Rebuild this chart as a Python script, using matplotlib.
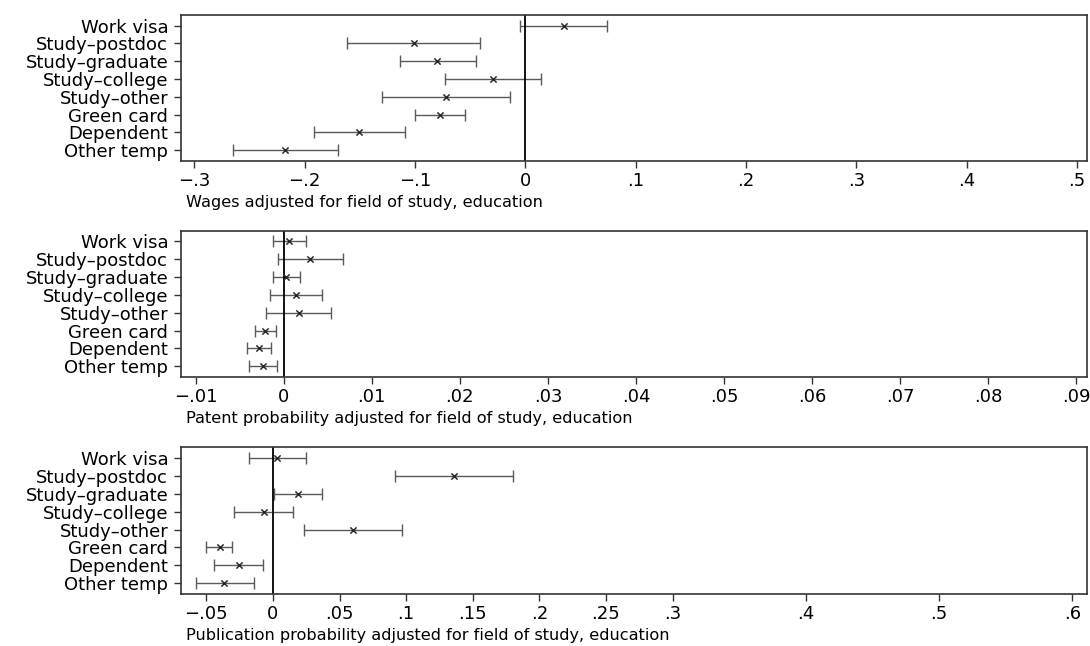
import matplotlib.pyplot as plt
import numpy as np

plt.rcParams['font.family'] = ['DejaVu Sans']

categories = ["Work visa", "Study–postdoc", "Study–graduate", "Study–college",
              "Study–other", "Green card", "Dependent", "Other temp"]

# Wages
wage_pt = [0.035, -0.101, -0.080, -0.029, -0.072, -0.077, -0.151, -0.2175]
wage_lo = [-0.005, -0.162, -0.114, -0.073, -0.130, -0.100, -0.192, -0.265]
wage_hi = [0.074, -0.041, -0.045, 0.014, -0.014, -0.055, -0.109, -0.170]

# Patents
pat_pt = [0.00065, 0.0030, 0.0003, 0.0014, 0.0017, -0.0021, -0.0028, -0.0024]
pat_lo = [-0.0012, -0.0006, -0.0012, -0.0015, -0.0020, -0.0032, -0.0042, -0.0039]
pat_hi = [0.0025, 0.0067, 0.0019, 0.0044, 0.0054, -0.0009, -0.0014, -0.0008]

# Publications
pub_pt = [0.00325, 0.1358, 0.0185, -0.00675, 0.0598, -0.040, -0.0258, -0.0365]
pub_lo = [-0.018, 0.0918, 0.001, -0.029, 0.0235, -0.0505, -0.0445, -0.058]
pub_hi = [0.0248, 0.1805, 0.0368, 0.015, 0.0968, -0.0305, -0.00775, -0.0145]

wage_ticks = [-0.3, -0.2, -0.1, 0, 0.1, 0.2, 0.3, 0.4, 0.5]
wage_labels = ["\u2212.3", "\u2212.2", "\u2212.1", "0", ".1", ".2", ".3", ".4", ".5"]
pat_ticks = [-0.01, 0, 0.01, 0.02, 0.03, 0.04, 0.05, 0.06, 0.07, 0.08, 0.09]
pat_labels = ["\u2212.01", "0", ".01", ".02", ".03", ".04", ".05", ".06", ".07", ".08", ".09"]
pub_ticks = [-0.05, 0, 0.05, 0.1, 0.15, 0.2, 0.25, 0.3, 0.4, 0.5, 0.6]
pub_labels = ["\u2212.05", "0", ".05", ".1", ".15", ".2", ".25", ".3", ".4", ".5", ".6"]

panels = [
    (wage_pt, wage_lo, wage_hi, wage_ticks, wage_labels, (-0.3124, 0.509),
     "Wages adjusted for field of study, education", [0.1658, 0.7508, 0.8314, 0.2260]),
    (pat_pt, pat_lo, pat_hi, pat_ticks, pat_labels, (-0.01169, 0.0912),
     "Patent probability adjusted for field of study, education", [0.1658, 0.4164, 0.8314, 0.2265]),
    (pub_pt, pub_lo, pub_hi, pub_ticks, pub_labels, (-0.0692, 0.611),
     "Publication probability adjusted for field of study, education", [0.1658, 0.0805, 0.8314, 0.2271]),
]

fig = plt.figure(figsize=(10.9, 6.46), dpi=100)
y = np.arange(len(categories))

for pt, lo, hi, ticks, labels, xlim, xlabel, rect in panels:
    ax = fig.add_axes(rect)
    pt = np.array(pt)
    err = [pt - np.array(lo), np.array(hi) - pt]
    ax.errorbar(pt, y, xerr=err, fmt='none', ecolor='#5a5a5a', elinewidth=1.0,
                capsize=4.5, capthick=1.0)
    ax.scatter(pt, y, marker='x', s=20, color='#2a2a2a', linewidths=1.1, zorder=3)
    ax.axvline(0, color='black', lw=1.3)
    ax.set_xlim(*xlim)
    ax.set_ylim(len(categories) - 0.4, -0.6)
    ax.set_yticks(y)
    ax.set_yticklabels(categories, fontsize=13)
    ax.set_xticks(ticks)
    ax.set_xticklabels(labels, fontsize=13)
    ax.tick_params(axis='both', direction='out', length=5, width=1, color='#333333', pad=3)
    ax.tick_params(axis='y', pad=4)
    for s in ax.spines.values():
        s.set_linewidth(1.2)
        s.set_color('#333333')
    ax.set_xlabel(xlabel, fontsize=11.6, ha='left')
    ax.xaxis.set_label_coords(0.006, -0.235)

fig.savefig('out.png', dpi=100)
